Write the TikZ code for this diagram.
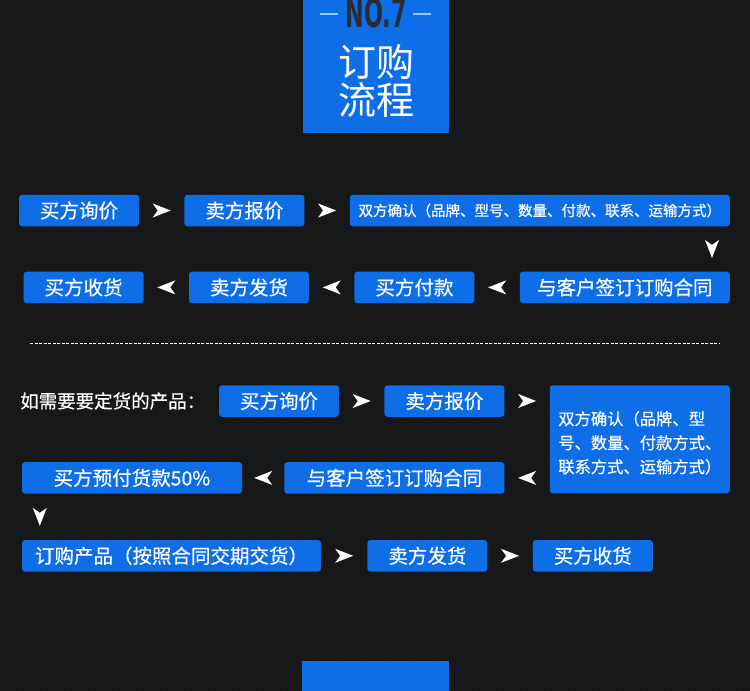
\documentclass[tikz,border=0pt]{standalone}
\usepackage{fontspec}
\setmainfont{Noto Sans CJK SC}
\newfontfamily\boxfont{Noto Sans CJK SC}[FakeBold=0.5]
\newfontfamily\nofont{DejaVu Sans Condensed}
\usetikzlibrary{positioning, calc, patterns}
\definecolor{cBlue}{RGB}{13,110,232}
\definecolor{cBack}{RGB}{20,21,22}
\definecolor{cStripe}{RGB}{32,33,35}
\definecolor{cDark}{RGB}{44,45,48}
\definecolor{cLine}{RGB}{160,196,245}
\tikzset{
	stepbox/.style={rectangle, rounded corners=3pt, fill=cBlue, text=white, minimum width=120pt, minimum height=31.5pt, inner sep=0pt, align=center, font=\boxfont\fontsize{19.5}{22}\selectfont},
	tip/.pic={\fill[white] (-9,7) -- (9,0) -- (-9,-7) -- (-4,0) -- cycle;},
}
\begin{document}
\begin{tikzpicture}[x=1pt, y=1pt]
	\useasboundingbox (0,0) rectangle (750,-691);
	\fill[cBack] (0,0) rectangle (750,-691);
	\fill[pattern=north east lines, pattern color=cStripe] (0,0) rectangle (750,-691);
	% header
	\node[fill=cBlue, minimum width=146pt, minimum height=133pt, inner sep=0pt, anchor=north] (head) at (376,0) {};
	\node[anchor=base, inner sep=0pt, text=cDark, font=\nofont\bfseries\fontsize{40}{40}\selectfont] (no) at (376,-27) {\scalebox{0.62}[1]{NO.7}};
	\draw[cLine, line width=2.5pt] (320,-14) -- (338,-14) (413,-14) -- (431,-14);
	\node[text=white, align=center, inner sep=0pt, font=\fontsize{38}{38}\selectfont] (ttl) at (376,-81) {订购\\流程};
	% first flow
	\node[stepbox] (a1) at (79,-210.5) {买方询价};
	\node[stepbox, right=45pt of a1] (a2) {卖方报价};
	\node[stepbox, right=45pt of a2, minimum width=380pt, font=\boxfont\fontsize{14.5}{17}\selectfont] (a3) {双方确认（品牌、型号、数量、付款、联系、运输方式）};
	\node[stepbox, minimum width=210pt, anchor=north east] (a4) at ($(a3.south east)+(0,-45)$) {与客户签订订购合同};
	\node[stepbox, left=45pt of a4] (a5) {买方付款};
	\node[stepbox, left=45pt of a5] (a6) {卖方发货};
	\node[stepbox, left=45pt of a6] (a7) {买方收货};
	\foreach \s/\t in {a1/a2, a2/a3} {
		\path (\s.east) -- coordinate[midway] (m) (\t.west);
		\pic at (m) {tip};
	}
	\path (a3.south east) -- coordinate[midway] (m) (a4.north east);
	\pic[rotate=-90] at ($(m)+(-18,0)$) {tip};
	\foreach \s/\t in {a4/a5, a5/a6, a6/a7} {
		\path (\s.west) -- coordinate[midway] (m) (\t.east);
		\pic[rotate=180] at (m) {tip};
	}
	\draw[white, line width=0.8pt, dash pattern=on 3pt off 1.5pt] (30,-343) -- (720,-343);
	% second flow
	\node[anchor=west, text=white, inner sep=0pt, font=\boxfont\fontsize{18.5}{20}\selectfont] (ask) at (20,-401) {如需要要定货的产品：};
	\node[stepbox] (c1) at (279,-401) {买方询价};
	\node[stepbox, right=45pt of c1] (c2) {卖方报价};
	\node[stepbox, right=45pt of c2.north east, anchor=north west, minimum width=180pt, minimum height=108pt, align=left, font=\boxfont\fontsize{16.3}{24}\selectfont] (c3) {\rule{0pt}{21pt}双方确认（品牌、型\\号、数量、付款方式、\\联系方式、运输方式）};
	\node[stepbox, minimum width=220pt, anchor=north east] (c4) at ($(c2.south east)+(0,-45)$) {与客户签订订购合同};
	\node[stepbox, minimum width=220pt, left=42pt of c4] (c5) {买方预付货款50\%};
	\node[stepbox, minimum width=299pt, below=46pt of c5.south west, anchor=north west] (d1) {订购产品（按照合同交期交货）};
	\node[stepbox, right=46pt of d1] (d2) {卖方发货};
	\node[stepbox, right=45pt of d2] (d3) {买方收货};
	\path (c1.east) -- coordinate[midway] (m) (c2.west);
	\pic at (m) {tip};
	\path (c2.east) -- coordinate[midway] (m) (c2.east -| c3.west);
	\pic at (m) {tip};
	\path (c4.east -| c3.west) -- coordinate[midway] (m) (c4.east);
	\pic[rotate=180] at (m) {tip};
	\path (c4.west) -- coordinate[midway] (m) (c5.east);
	\pic[rotate=180] at (m) {tip};
	\path (c5.south west) -- coordinate[midway] (m) (d1.north west);
	\pic[rotate=-90] at ($(m)+(18,0)$) {tip};
	\foreach \s/\t in {d1/d2, d2/d3} {
		\path (\s.east) -- coordinate[midway] (m) (\t.west);
		\pic at (m) {tip};
	}
	\node[fill=cBlue, minimum width=147pt, minimum height=30pt, inner sep=0pt, anchor=north] (foot) at (375.5,-661) {};
\end{tikzpicture}
\end{document}
